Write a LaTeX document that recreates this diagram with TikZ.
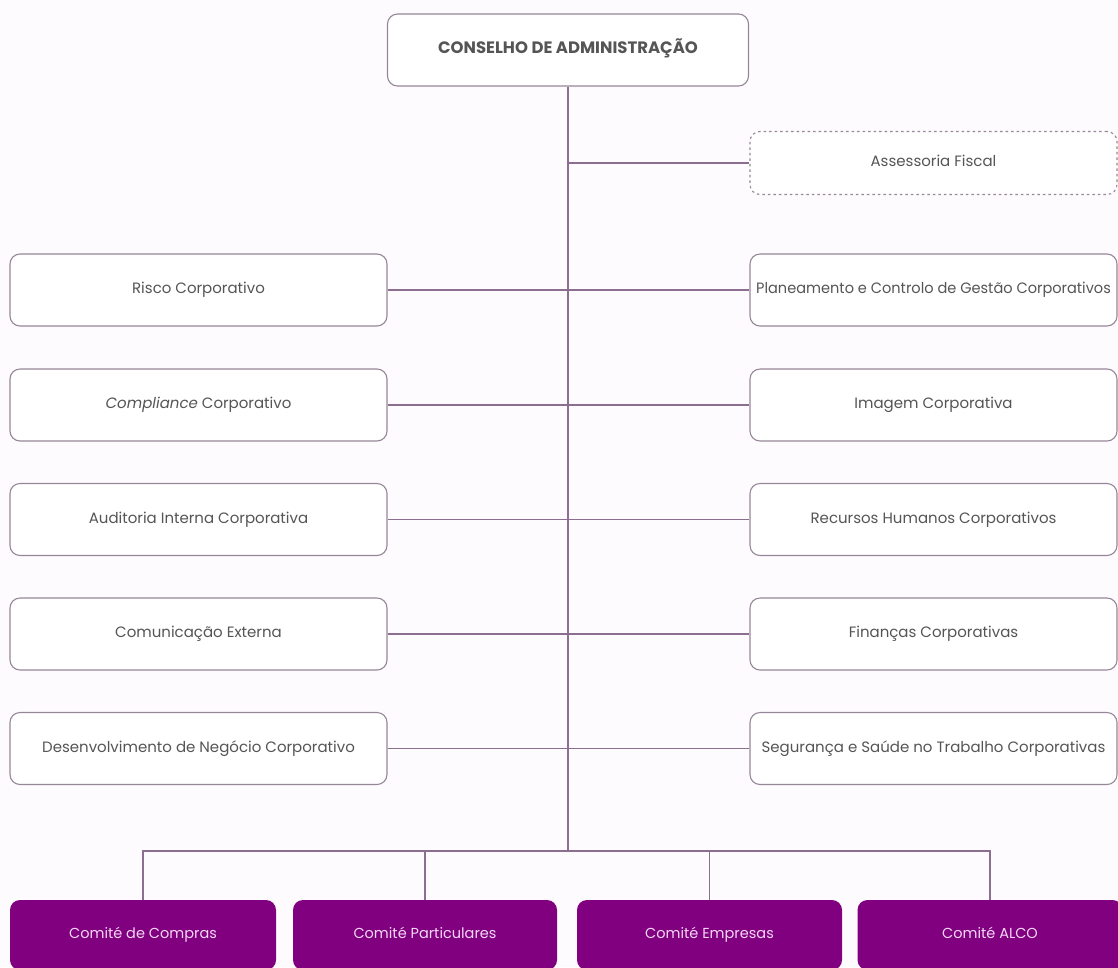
\documentclass[tikz,border=0pt]{standalone}
\usepackage{fontspec}
\setmainfont{Poppins}
\definecolor{linec}{RGB}{140,110,145}
\definecolor{boxc}{RGB}{150,135,152}
\definecolor{txtc}{RGB}{85,85,85}
\definecolor{purp}{RGB}{128,0,128}
\definecolor{ptxt}{RGB}{245,215,245}
\definecolor{bg}{RGB}{254,251,254}
\begin{document}
\begin{tikzpicture}[x=1pt,y=-1pt,
  wbox/.style={draw=boxc, rounded corners=10pt, line width=1.1pt, fill=white, minimum height=72pt, inner sep=0pt, text height=11pt, text depth=3.5pt, text=txtc, font=\fontsize{15}{18}\selectfont},
  lbox/.style={wbox, minimum width=377pt},
  rbox/.style={wbox, minimum width=367pt},
  dbox/.style={rbox, dash pattern=on 2.5pt off 3pt, minimum height=63pt},
  pbox/.style={fill=purp, rounded corners=10pt, minimum height=70pt, inner sep=0pt, text height=10.5pt, text depth=3.5pt, text=ptxt, font=\fontsize{14.5}{17}\selectfont},
  conn/.style={draw=linec, line width=1.1pt}]
\useasboundingbox (0,0) rectangle (1118,967);
\fill[bg] (0,0) rectangle (1118,967);
% top
\node[wbox, minimum width=361pt, font=\bfseries\fontsize{16.5}{19}\selectfont] (top) at (568,50) {CONSELHO DE ADMINISTRAÇÃO};
\coordinate (bus) at (568,851);
\coordinate (fisc) at (568,163);
\node[dbox] (ass) at (933.5,163) {Assessoria Fiscal};
% left
\node[lbox] (l1) at (198.5,290) {Risco Corporativo};
\node[lbox] (l2) at (198.5,405) {\textit{Compliance} Corporativo};
\node[lbox] (l3) at (198.5,519.5) {Auditoria Interna Corporativa};
\node[lbox] (l4) at (198.5,634) {Comunicação Externa};
\node[lbox] (l5) at (198.5,748.5) {Desenvolvimento de Negócio Corporativo};
% right
\node[rbox] (r1) at (933.5,290) {\scalebox{0.97}[1]{Planeamento e Controlo de Gestão Corporativos}};
\node[rbox] (r2) at (933.5,405) {Imagem Corporativa};
\node[rbox] (r3) at (933.5,519.5) {Recursos Humanos Corporativos};
\node[rbox] (r4) at (933.5,634) {Finanças Corporativas};
\node[rbox] (r5) at (933.5,748.5) {Segurança e Saúde no Trabalho Corporativas};
% bottom
\node[pbox, minimum width=266pt] (b1) at (143,935) {Comité de Compras};
\node[pbox, minimum width=264pt] (b2) at (425,935) {Comité Particulares};
\node[pbox, minimum width=265pt] (b3) at (709.5,935) {Comité Empresas};
\node[pbox, minimum width=265pt] (b4) at (990,935) {Comité ALCO};
% connectors
\draw[conn] (top.south) -- (bus);
\draw[conn] (fisc) -- (ass.west);
\foreach \i in {1,...,5} {\draw[conn] (l\i.east) -- (r\i.west);}
\draw[conn] (b1.north) |- (bus) -| (b4.north);
\draw[conn] (b2.north) -- (b2.north |- bus);
\draw[conn] (b3.north) -- (b3.north |- bus);
\end{tikzpicture}
\end{document}
